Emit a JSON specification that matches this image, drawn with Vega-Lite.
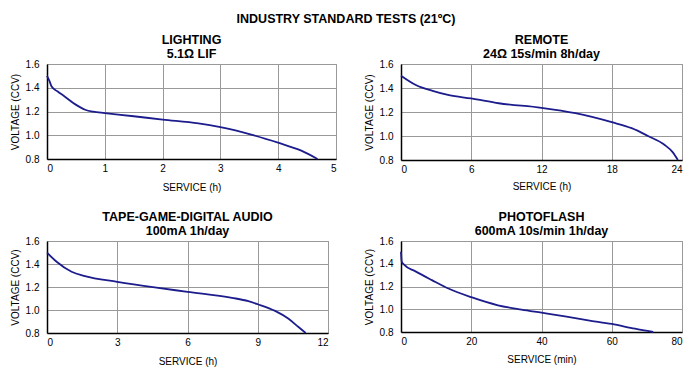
{
  "$schema": "https://vega.github.io/schema/vega-lite/v6.json",
  "background": "white",
  "padding": {"left": 9, "top": 12, "right": 8, "bottom": 2},
  "title": {"text": "INDUSTRY STANDARD TESTS (21ºC)", "fontSize": 12.5, "font": "Liberation Sans", "fontWeight": "bold", "anchor": "middle", "offset": 8, "color": "black"},
  "config": {
    "font": "Liberation Sans",
    "view": {"stroke": "#999999", "strokeWidth": 1},
    "axis": {
      "labelFont": "Liberation Sans", "labelFontSize": 10, "labelColor": "black",
      "titleFont": "Liberation Sans", "titleFontSize": 10, "titleFontWeight": "normal", "titleColor": "black",
      "ticks": false, "domainColor": "black", "domainWidth": 1.5,
      "gridColor": "#999999", "gridWidth": 1, "gridOpacity": 1
    },
    "title": {"font": "Liberation Sans", "fontSize": 12.5, "fontWeight": "bold", "color": "black", "lineHeight": 14, "offset": -1},
    "line": {"color": "#1c1c8c", "strokeWidth": 1.8, "interpolate": "monotone"}
  },
  "spacing": 17,
  "vconcat": [
    {
      "spacing": 26,
      "hconcat": [
        {
          "title": {"text": ["LIGHTING", "5.1Ω LIF"]},
          "width": 289, "height": 95,
          "data": {"values": [
            {"t": 0, "v": 1.50}, {"t": 0.04, "v": 1.46}, {"t": 0.08, "v": 1.41}, {"t": 0.18, "v": 1.37},
            {"t": 0.31, "v": 1.325}, {"t": 0.49, "v": 1.26}, {"t": 0.66, "v": 1.215}, {"t": 0.8, "v": 1.198},
            {"t": 1.0, "v": 1.187}, {"t": 1.5, "v": 1.16}, {"t": 2.0, "v": 1.132}, {"t": 2.62, "v": 1.10},
            {"t": 3.0, "v": 1.068}, {"t": 3.55, "v": 1.003}, {"t": 4.01, "v": 0.935}, {"t": 4.4, "v": 0.87},
            {"t": 4.68, "v": 0.80}
          ]},
          "mark": {"type": "line"},
          "encoding": {
            "x": {"field": "t", "type": "quantitative", "scale": {"domain": [0, 5], "nice": false}, "axis": {"values": [0, 1, 2, 3, 4, 5], "title": "SERVICE (h)", "labelPadding": 4, "titlePadding": 9}},
            "y": {"field": "v", "type": "quantitative", "scale": {"domain": [0.8, 1.6], "nice": false, "zero": false}, "axis": {"values": [0.8, 1.0, 1.2, 1.4, 1.6], "format": ".1f", "title": "VOLTAGE (CCV)", "labelPadding": 8, "titlePadding": 5}}
          }
        },
        {
          "title": {"text": ["REMOTE", "24Ω 15s/min 8h/day"]},
          "width": 281, "height": 96,
          "data": {"values": [
            {"t": 0, "v": 1.503}, {"t": 1.27, "v": 1.425}, {"t": 2.7, "v": 1.376}, {"t": 4.1, "v": 1.34},
            {"t": 6, "v": 1.313}, {"t": 8.35, "v": 1.273}, {"t": 12, "v": 1.235}, {"t": 14.9, "v": 1.19},
            {"t": 18, "v": 1.115}, {"t": 19.7, "v": 1.065}, {"t": 21.1, "v": 1.0}, {"t": 22.5, "v": 0.927},
            {"t": 23.2, "v": 0.866}, {"t": 23.65, "v": 0.80}
          ]},
          "mark": {"type": "line"},
          "encoding": {
            "x": {"field": "t", "type": "quantitative", "scale": {"domain": [0, 24], "nice": false}, "axis": {"values": [0, 6, 12, 18, 24], "title": "SERVICE (h)", "labelPadding": 4, "titlePadding": 7}},
            "y": {"field": "v", "type": "quantitative", "scale": {"domain": [0.8, 1.6], "nice": false, "zero": false}, "axis": {"values": [0.8, 1.0, 1.2, 1.4, 1.6], "format": ".1f", "title": "VOLTAGE (CCV)", "labelPadding": 8, "titlePadding": 5}}
          }
        }
      ]
    },
    {
      "spacing": 34,
      "hconcat": [
        {
          "title": {"text": ["TAPE-GAME-DIGITAL AUDIO", "100mA 1h/day"]},
          "width": 281, "height": 92,
          "data": {"values": [
            {"t": 0, "v": 1.498}, {"t": 0.41, "v": 1.42}, {"t": 1.05, "v": 1.333}, {"t": 1.62, "v": 1.295},
            {"t": 3, "v": 1.245}, {"t": 4.6, "v": 1.196}, {"t": 6, "v": 1.158}, {"t": 7.9, "v": 1.106},
            {"t": 8.6, "v": 1.077}, {"t": 9, "v": 1.05}, {"t": 9.74, "v": 0.992}, {"t": 10.3, "v": 0.926},
            {"t": 10.74, "v": 0.852}, {"t": 11.05, "v": 0.80}
          ]},
          "mark": {"type": "line"},
          "encoding": {
            "x": {"field": "t", "type": "quantitative", "scale": {"domain": [0, 12], "nice": false}, "axis": {"values": [0, 3, 6, 9, 12], "title": "SERVICE (h)", "labelPadding": 4, "titlePadding": 9}},
            "y": {"field": "v", "type": "quantitative", "scale": {"domain": [0.8, 1.6], "nice": false, "zero": false}, "axis": {"values": [0.8, 1.0, 1.2, 1.4, 1.6], "format": ".1f", "title": "VOLTAGE (CCV)", "labelPadding": 8, "titlePadding": 5}}
          }
        },
        {
          "title": {"text": ["PHOTOFLASH", "600mA 10s/min 1h/day"]},
          "width": 281, "height": 91,
          "data": {"values": [
            {"t": 0, "v": 1.506}, {"t": 0.2, "v": 1.42}, {"t": 0.95, "v": 1.39}, {"t": 4, "v": 1.335},
            {"t": 8.8, "v": 1.256}, {"t": 13.5, "v": 1.182}, {"t": 20, "v": 1.106}, {"t": 27.6, "v": 1.035},
            {"t": 34.3, "v": 0.997}, {"t": 40, "v": 0.97}, {"t": 46.7, "v": 0.938}, {"t": 53.3, "v": 0.903},
            {"t": 60, "v": 0.871}, {"t": 66.6, "v": 0.829}, {"t": 71.8, "v": 0.80}
          ]},
          "mark": {"type": "line"},
          "encoding": {
            "x": {"field": "t", "type": "quantitative", "scale": {"domain": [0, 80], "nice": false}, "axis": {"values": [0, 20, 40, 60, 80], "title": "SERVICE (min)", "labelPadding": 4, "titlePadding": 8}},
            "y": {"field": "v", "type": "quantitative", "scale": {"domain": [0.8, 1.6], "nice": false, "zero": false}, "axis": {"values": [0.8, 1.0, 1.2, 1.4, 1.6], "format": ".1f", "title": "VOLTAGE (CCV)", "labelPadding": 8, "titlePadding": 5}}
          }
        }
      ]
    }
  ]
}
